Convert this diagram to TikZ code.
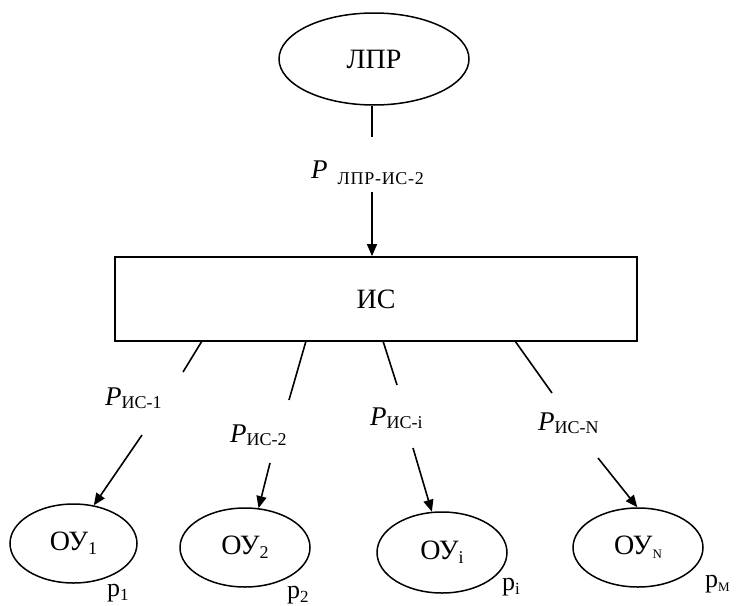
\documentclass[tikz,border=0pt]{standalone}
\usepackage{fontspec}
\setmainfont{Liberation Serif}
\usetikzlibrary{shapes.geometric,arrows.meta,calc}
\newcommand\bigtxt{\fontsize{28}{32}\selectfont}
\newcommand\subtxt{\fontsize{18}{20}\selectfont}
\newcommand\mylbl[2][0pt]{{\fontsize{27}{30}\selectfont\itshape P}\hspace*{#1}\raisebox{-3pt}{\subtxt #2}}
\newcommand\ousub[1]{{\bigtxt ОУ}\raisebox{-4pt}{\fontsize{18}{20}\selectfont #1}}
\newcommand\psub[1]{{\fontsize{26}{30}\selectfont p}\raisebox{-4pt}{\fontsize{17}{19}\selectfont #1}}
\begin{document}
\begin{tikzpicture}[x=1pt,y=-1pt,
  oval/.style={draw,ellipse,line width=1.5pt,inner sep=0pt},
  boxed/.style={draw,rectangle,line width=1.8pt,inner sep=0pt},
  lbl/.style={inner sep=0pt,anchor=base west},
  link/.style={line width=1.6pt},
  arr/.style={line width=1.6pt,-{Triangle[length=12pt,width=10pt]}}]
\useasboundingbox (0,0) rectangle (738,605);

\node[oval,minimum width=190pt,minimum height=92pt] (lpr) at (374,59) {\bigtxt ЛПР};
\node[boxed,minimum width=522pt,minimum height=84pt] (is) at (376,299) {\bigtxt ИС};

\node[oval,minimum width=127pt,minimum height=79pt] (ou1) at (73.5,543.5) {\ousub{1}};
\node[oval,minimum width=130pt,minimum height=79pt] (ou2) at (245,547.5) {\ousub{2}};
\node[oval,minimum width=130pt,minimum height=81pt] (oui) at (442,552.5) {\ousub{i}};
\node[oval,minimum width=130pt,minimum height=79pt] (ouN) at (638,547.5) {\ousub{\fontsize{13}{15}\selectfont N}};

% labels
\node[lbl] (l0) at (311,178) {{\fontsize{27}{30}\selectfont\itshape P}\hspace*{10pt}\raisebox{-6pt}{\fontsize{18}{20}\selectfont\addfontfeature{LetterSpace=4}ЛПР-ИС-2}};
\node[lbl] (l1) at (105,405) {\mylbl{ИС-1}};
\node[lbl] (l2) at (230,442) {\mylbl{ИС-2}};
\node[lbl] (l3) at (370,425) {\mylbl{ИС-i}};
\node[lbl] (l4) at (538,430) {\mylbl{ИС-N}};

\node[lbl] (p1) at (107,596) {\psub{1}};
\node[lbl] (p2) at (287,598) {\psub{2}};
\node[lbl] (pi) at (502,590) {\psub{i}};
\node[lbl] (pM) at (705,587) {\psub{\fontsize{13}{15}\selectfont M}};

% coordinates
\coordinate (c0a) at (372,137);
\coordinate (c0b) at (372,192);
\coordinate (s1) at (202,341); \coordinate (e1) at (183,372); \coordinate (a1) at (142,435);
\coordinate (s2) at (306,341); \coordinate (e2) at (289,400); \coordinate (a2) at (270,463);
\coordinate (s3) at (383,341); \coordinate (e3) at (397,385); \coordinate (a3) at (413,448);
\coordinate (s4) at (515,341); \coordinate (e4) at (552,393); \coordinate (a4) at (598,458);

\draw[link] (lpr.south -| c0a) -- (c0a);
\draw[arr] (c0b) -- (c0b |- is.north);

\draw[link] (s1) -- (e1);
\draw[link] (s2) -- (e2);
\draw[link] (s3) -- (e3);
\draw[link] (s4) -- (e4);

\draw[arr] (a1) -- (ou1.62);
\draw[arr] (a2) -- (ou2.71);
\draw[arr] (a3) -- (oui.104);
\draw[arr] (a4) -- (ouN.91);
\end{tikzpicture}
\end{document}
